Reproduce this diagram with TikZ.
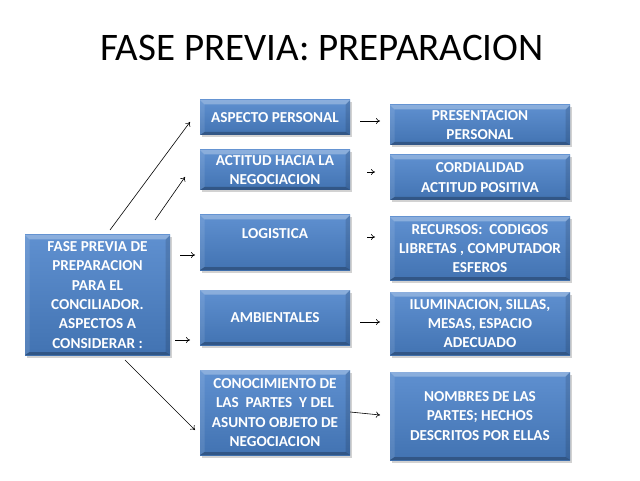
\documentclass[tikz,border=0pt]{standalone}
\usepackage{fontspec}
\setmainfont{Carlito}
\usetikzlibrary{shadows,calc,arrows.meta}
\definecolor{boxtop}{HTML}{5F90D0}
\definecolor{boxbot}{HTML}{4273B2}
\tikzset{
  bx/.style={rectangle, inner sep=2pt, top color=boxtop, bottom color=boxbot,
    text=white, align=center,
    font=\bfseries\fontsize{15.2}{19.3}\selectfont,
    drop shadow={opacity=0.35, shadow xshift=1.5pt, shadow yshift=-2.5pt},
    path picture={
      \coordinate (nw) at (path picture bounding box.north west);
      \coordinate (ne) at (path picture bounding box.north east);
      \coordinate (sw) at (path picture bounding box.south west);
      \coordinate (se) at (path picture bounding box.south east);
      \fill[white, opacity=0.28] (nw) -- (ne) -- ($(ne)+(-4.5pt,-4.5pt)$) -- ($(nw)+(4.5pt,-4.5pt)$) -- cycle;
      \fill[white, opacity=0.10] (nw) -- ($(nw)+(4.5pt,-4.5pt)$) -- ($(sw)+(4.5pt,3pt)$) -- (sw) -- cycle;
      \fill[black, opacity=0.12] (ne) -- ($(ne)+(-4.5pt,-4.5pt)$) -- ($(se)+(-4.5pt,3pt)$) -- (se) -- cycle;
      \fill[black, opacity=0.25] (sw) -- ($(sw)+(4.5pt,3pt)$) -- ($(se)+(-4.5pt,3pt)$) -- (se) -- cycle;
    }},
  arr/.style={-{To[length=4pt,width=6pt]}, line width=0.6pt, black}
}
\begin{document}
\begin{tikzpicture}[x=1pt,y=1pt]
\useasboundingbox (0,0) rectangle (640,480);
\fill[white] (0,0) rectangle (640,480);
\node (title) at (322,432) {\fontsize{39}{43}\selectfont FASE PREVIA: PREPARACION};

\node[bx, minimum width=145pt, minimum height=120pt] (L) at (97.5,185)
  {FASE PREVIA DE\\PREPARACION\\PARA EL\\CONCILIADOR.\\ASPECTOS A\\CONSIDERAR :};

\node[bx, minimum width=150pt, minimum height=35pt] (A) at (275,362.5) {ASPECTO PERSONAL};
\node[bx, minimum width=150pt, minimum height=40pt] (B) at (275,310) {ACTITUD HACIA LA\\NEGOCIACION};
\node[bx, minimum width=150pt, minimum height=55pt] (C) at (275,237.5) {LOGISTICA\\[-8pt]\strut};
\node[bx, minimum width=150pt, minimum height=55pt] (D) at (275,162.5) {AMBIENTALES};
\node[bx, minimum width=150pt, minimum height=85pt] (E) at (275,67.5)
  {CONOCIMIENTO DE\\LAS~ PARTES~ Y DEL\\ASUNTO OBJETO DE\\NEGOCIACION};

\node[bx, minimum width=180pt, minimum height=40pt] (P) at (480,355) {PRESENTACION\\PERSONAL};
\node[bx, minimum width=180pt, minimum height=45pt] (Q) at (480,302.5) {CORDIALIDAD\\ACTITUD POSITIVA};
\node[bx, minimum width=180pt, minimum height=63pt] (R) at (480,231.5) {RECURSOS:~ CODIGOS\\LIBRETAS , COMPUTADOR\\ESFEROS};
\node[bx, minimum width=180pt, minimum height=63pt] (S) at (480,156.5) {ILUMINACION, SILLAS,\\MESAS, ESPACIO\\ADECUADO};
\node[bx, minimum width=180pt, minimum height=88pt] (T) at (480,64) {NOMBRES DE LAS\\PARTES; HECHOS\\DESCRITOS POR ELLAS};

% connector end points
\coordinate (la1) at (110,250);  \coordinate (la2) at (190,358);
\coordinate (lb1) at (155,260);  \coordinate (lb2) at (185,303);
\coordinate (lc1) at (180,225);  \coordinate (lc2) at (195,225);
\coordinate (ld1) at (175,140);  \coordinate (ld2) at (190,140);
\coordinate (le1) at (125,120);  \coordinate (le2) at (195,50);
\coordinate (ap1) at (360,359);  \coordinate (ap2) at (380,359);
\coordinate (bq1) at (367,308);  \coordinate (bq2) at (375,308);
\coordinate (cr1) at (367,243);  \coordinate (cr2) at (375,243);
\coordinate (ds1) at (360,158);  \coordinate (ds2) at (380,158);
\coordinate (et2) at (380,65);

\draw[arr] (la1) -- (la2);
\draw[arr] (lb1) -- (lb2);
\draw[arr] (lc1) -- (lc2);
\draw[arr] (ld1) -- (ld2);
\draw[arr] (le1) -- (le2);
\draw[arr] (ap1) -- (ap2);
\draw[arr] (bq1) -- (bq2);
\draw[arr] (cr1) -- (cr2);
\draw[arr] (ds1) -- (ds2);
\draw[arr] (E.east |- 0,68) -- (et2);
\end{tikzpicture}
\end{document}
